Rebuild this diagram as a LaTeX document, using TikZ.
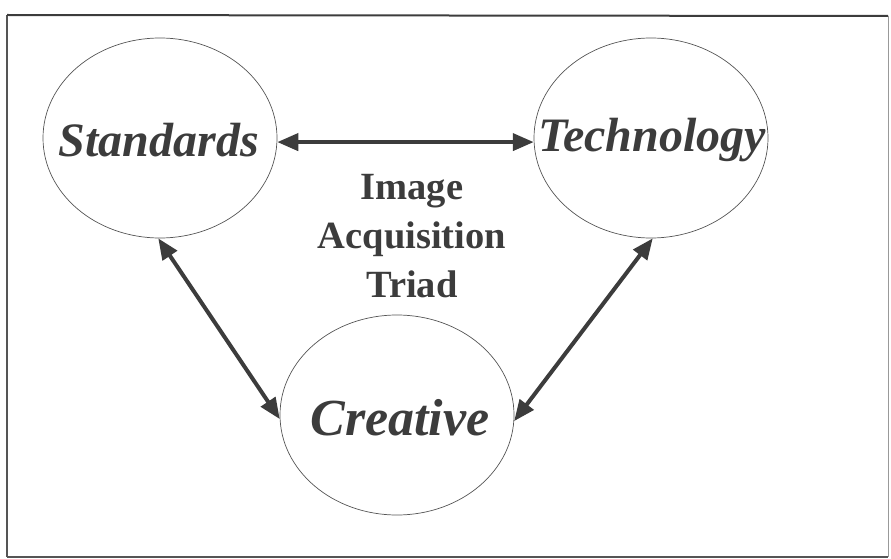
\documentclass[tikz,border=0pt]{standalone}
\usepackage{fontspec}
\setmainfont{Liberation Serif}
\usetikzlibrary{shapes.geometric,arrows.meta}
\definecolor{ink}{HTML}{3C3C3C}
\definecolor{rim}{HTML}{555555}
\tikzset{
  circ/.style={ellipse, draw=rim, line width=0.7pt, minimum width=234pt, minimum height=200pt, inner sep=0pt},
  big/.style={font=\fontsize{48}{56}\selectfont\bfseries\itshape, text=ink},
  bigger/.style={font=\fontsize{52}{60}\selectfont\bfseries\itshape, text=ink},
  link/.style={draw=ink, line width=4pt, {Triangle[length=21pt,width=17pt]}-{Triangle[length=21pt,width=17pt]}, shorten <=0pt, shorten >=0pt},
  frame/.style={draw=rim, line width=1.4pt}
}
\begin{document}
\begin{tikzpicture}[x=1pt,y=-1pt]
\useasboundingbox (0,0) rectangle (891,559);
\draw[frame] (7,557) -- (7,15) coordinate (tl);
\draw[draw=ink, line width=2pt] (7,15) -- (888,16);
\draw[draw=rim!60, line width=1pt] (888,16) -- (888,557);
\draw[frame] (7,557) -- (888,557);
\node[circ] (std) at (160,138) {};
\node[big] (stdt) at (159,140) {Standards};
\node[circ] (tech) at (651,138) {};
\node[big] (techt) at (652,140) {Technology};
\node[circ] (cre) at (397,415) {};
\node[bigger] (cret) at (400,418) {Creative};
\node[align=center, font=\fontsize{38.5}{49}\selectfont\bfseries, text=ink] (tri) at (412,236) {Image\\Acquisition\\Triad};
\draw[link] (std.-2.4) -- (tech.182.5);
\draw[link] (std.269) -- (cre.182.5);
\draw[link] (tech.271) -- (cre.-3.4);
\end{tikzpicture}
\end{document}
